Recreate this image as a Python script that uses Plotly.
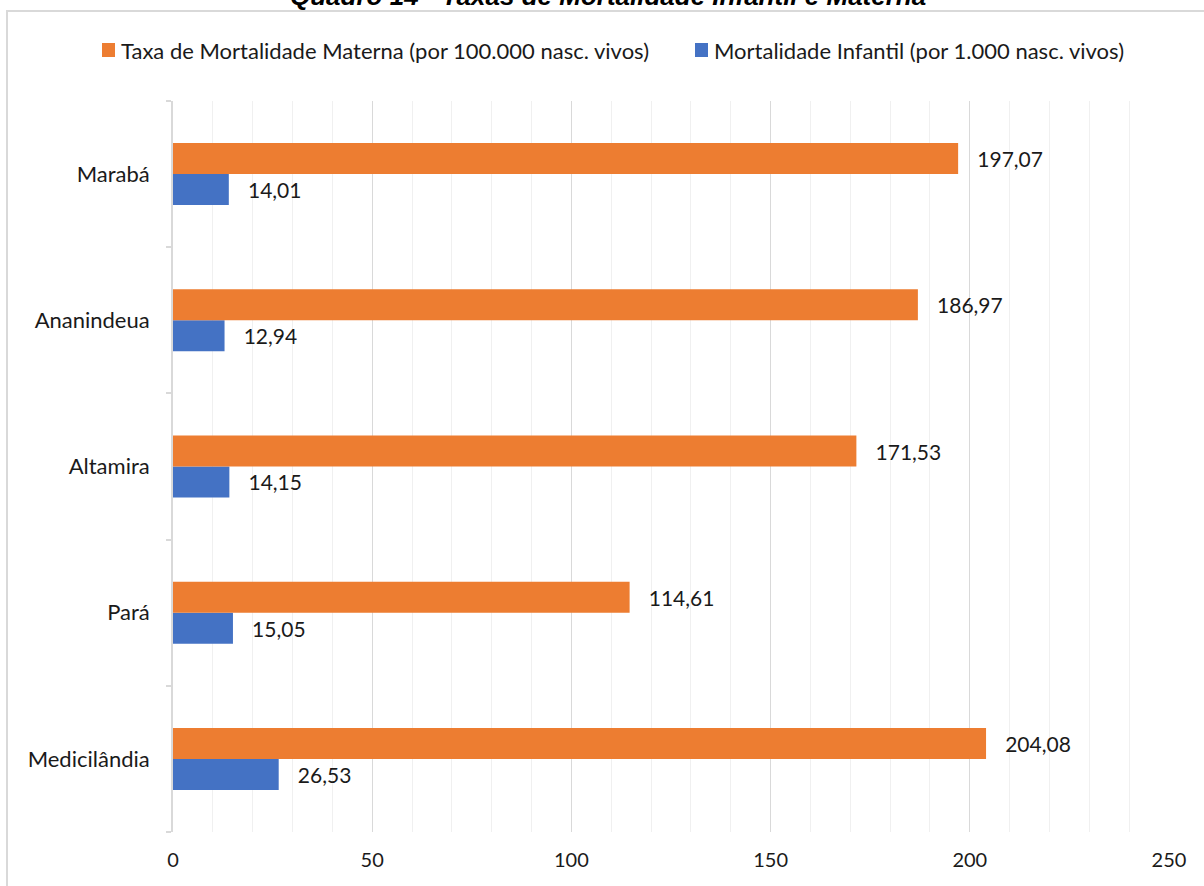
import plotly.graph_objects as go

# Municipalities, bottom to top as drawn on the category axis
municipios = ["Medicilândia", "Pará", "Altamira", "Ananindeua", "Marabá"]
mort_materna = [204.08, 114.61, 171.53, 186.97, 197.07]
mort_infantil = [26.53, 15.05, 14.15, 12.94, 14.01]
x_ticks = [0, 50, 100, 150, 200, 250]

nome_materna = "Taxa de Mortalidade Materna (por 100.000 nasc. vivos)"
nome_infantil = "Mortalidade Infantil (por 1.000 nasc. vivos)"

FONT = "Lato"
TEXT = "#1a1a1a"
ORANGE = "#ED7D31"
BLUE = "#4472C4"

# Plot area in pixels
L, R, T, B = 173, 35, 101, 54
W, H = 1204, 886
PW, PH = W - L - R, H - T - B


def px_x(p):
    return (p - L) / PW


def px_y(p):
    return 1 + (T - p) / PH


def fmt(v):
    return "   " + f"{v:.2f}".replace(".", ",")


fig = go.Figure()
fig.add_trace(go.Bar(
    y=municipios, x=mort_infantil, orientation="h", name=nome_infantil,
    marker=dict(color=BLUE, line=dict(width=0)),
    text=[fmt(v) for v in mort_infantil], textposition="outside",
    textfont=dict(family=FONT, size=21, color=TEXT), cliponaxis=False,
))
fig.add_trace(go.Bar(
    y=municipios, x=mort_materna, orientation="h", name=nome_materna,
    marker=dict(color=ORANGE, line=dict(width=0)),
    text=[fmt(v) for v in mort_materna], textposition="outside",
    textfont=dict(family=FONT, size=21, color=TEXT), cliponaxis=False,
))

fig.update_layout(
    width=W, height=H,
    margin=dict(l=L, r=R, t=T, b=B),
    paper_bgcolor="white", plot_bgcolor="white",
    barmode="group", bargap=0.576, bargroupgap=0,
    font=dict(family=FONT, size=20, color=TEXT),
    showlegend=False,
    uniformtext=dict(mode=False),
    xaxis=dict(range=[0, 250], tickvals=x_ticks, ticktext=[str(t) for t in x_ticks],
               showgrid=True, gridcolor="#d9d9d9", gridwidth=1,
               minor=dict(dtick=10, showgrid=True, gridcolor="#f0f0f0", gridwidth=1),
               zeroline=False, showline=False, ticks="", ticklabelstandoff=14,
               tickfont=dict(family=FONT, size=20, color=TEXT)),
    yaxis=dict(showline=True, linecolor="#d9d9d9", linewidth=2,
               ticks="outside", ticklen=5, tickcolor="#d9d9d9", tickwidth=2,
               tickson="boundaries", showgrid=False,
               tickfont=dict(family=FONT, size=22, color=TEXT), ticksuffix="   "),
)

# Legend drawn as swatches with labels
legenda = [(nome_materna, ORANGE, 102), (nome_infantil, BLUE, 695)]
for nome, cor, x0 in legenda:
    fig.add_shape(type="rect", xref="paper", yref="paper",
                  x0=px_x(x0), x1=px_x(x0 + 13), y0=px_y(57), y1=px_y(43),
                  fillcolor=cor, line=dict(width=0))
    fig.add_annotation(text=nome, xref="paper", yref="paper",
                       x=px_x(x0 + 17), y=px_y(50), xanchor="left", yanchor="middle",
                       showarrow=False, font=dict(family=FONT, size=22, color=TEXT))

# Chart title, partly above the page edge
fig.add_annotation(text="<b><i>Quadro 14 - Taxas de Mortalidade Infantil e Materna</i></b>",
                   xref="paper", yref="paper", x=px_x(608), y=px_y(13),
                   xanchor="center", yanchor="bottom", showarrow=False,
                   font=dict(family="Liberation Sans", size=26, color="#000000"))

# Outer chart frame
fig.add_shape(type="rect", xref="paper", yref="paper",
              x0=px_x(7), x1=px_x(1215), y0=px_y(895), y1=px_y(11),
              line=dict(color="#d9d9d9", width=2), layer="below")

fig.write_html("out.html")
